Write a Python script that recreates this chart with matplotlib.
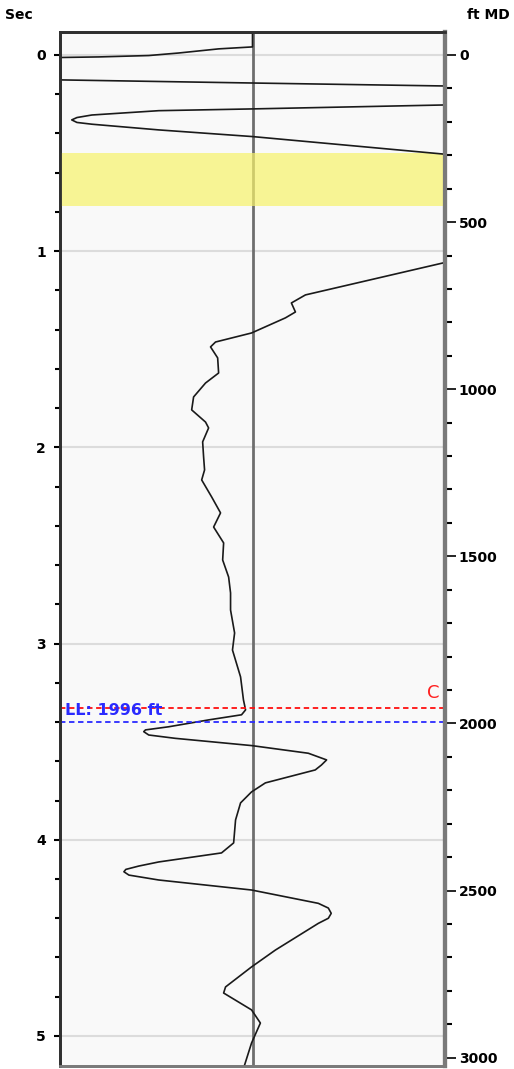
"""
Well log track: time (Sec) on the left, measured depth (ft MD) on the right,
one wiggly trace with a zone band and two marker lines.
"""
import matplotlib.pyplot as plt
from matplotlib.ticker import MultipleLocator

FT_PER_SEC = 587.0

# trace: time (s) and amplitude (-1..1 = track width)
# values past +/-1 run off the track and are clipped
trace_sec = [-0.117, -0.041, -0.031, -0.010, 0.003, 0.010, 0.013, 0.020,
             0.104, 0.127, 0.143, 0.158, 0.181, 0.224, 0.255, 0.275, 0.284,
             0.306, 0.319, 0.331, 0.344, 0.353, 0.382, 0.416, 0.505, 0.595,
             0.830, 1.060, 1.223, 1.264, 1.310, 1.340, 1.417, 1.463, 1.488,
             1.544, 1.621, 1.672, 1.743, 1.809, 1.871, 1.901, 1.972, 2.049,
             2.115, 2.166, 2.253, 2.334, 2.406, 2.487, 2.574, 2.661, 2.742,
             2.829, 2.946, 3.033, 3.170, 3.287, 3.338, 3.363, 3.389, 3.424,
             3.440, 3.449, 3.466, 3.483, 3.520, 3.559, 3.593, 3.619, 3.644,
             3.710, 3.756, 3.812, 3.899, 4.016, 4.067, 4.113, 4.134, 4.151,
             4.163, 4.180, 4.205, 4.256, 4.324, 4.348, 4.375, 4.400, 4.426,
             4.562, 4.648, 4.750, 4.781, 4.867, 4.934, 5.036, 5.160]
trace_amp = [0.0, 0.0, -0.176, -0.383, -0.539, -0.798, -1.005, -2.5,
             -2.5, -1.005, 0.0, 0.99, 2.5, 2.5, 0.99, 0.0, -0.487,
             -0.834, -0.912, -0.939, -0.912, -0.834, -0.487, 0.0, 0.99, 2.0,
             2.0, 0.99, 0.275, 0.202, 0.223, 0.171, -0.005, -0.192, -0.218,
             -0.181, -0.176, -0.244, -0.306, -0.316, -0.244, -0.228, -0.259, -0.254,
             -0.249, -0.264, -0.212, -0.166, -0.202, -0.150, -0.155, -0.124, -0.114,
             -0.114, -0.093, -0.104, -0.062, -0.047, -0.036, -0.057, -0.228, -0.435,
             -0.556, -0.565, -0.539, -0.401, -0.004, 0.290, 0.385, 0.358, 0.326,
             0.067, -0.005, -0.062, -0.088, -0.098, -0.161, -0.487, -0.591, -0.658,
             -0.668, -0.642, -0.487, -0.005, 0.342, 0.394, 0.409, 0.394, 0.342,
             0.119, -0.005, -0.140, -0.150, -0.005, 0.041, -0.005, -0.045]

zone_sec = (0.50, 0.77)          # yellow band
marker_c_ft = 1955               # red "C" marker
marker_ll_ft = 1996              # blue LL marker

sec_ticks = [0, 1, 2, 3, 4, 5]
ft_ticks = [0, 500, 1000, 1500, 2000, 2500, 3000]

fig = plt.figure(figsize=(5.14, 10.69), dpi=100)
ax = fig.add_axes([60 / 514, 3 / 1069, 385 / 514, 1034 / 1069])
ax.set_facecolor('#f9f9f9')

sec_lim = (5.153, -0.117)
ax.set_ylim(*sec_lim)
ax.set_xlim(-1.0, 1.0)

for s in sec_ticks:
    ax.axhline(s, color='#dcdcdc', lw=1.5, zorder=1)

ax.axvline(0, color='#6e6e6e', lw=2, zorder=2)
ax.axhspan(*zone_sec, color='#f7f26a', alpha=0.7, lw=0, zorder=3)

ax.plot(trace_amp, trace_sec, color='#1a1a1a', lw=1.2, zorder=4,
        solid_joinstyle='round', solid_capstyle='round')

c_sec = marker_c_ft / FT_PER_SEC
ll_sec = marker_ll_ft / FT_PER_SEC
ax.axhline(c_sec, color='#ff1010', lw=1.3, ls=(0, (3, 2)), zorder=5)
ax.axhline(ll_sec, color='#2a2aff', lw=1.3, ls=(0, (3, 2)), zorder=5)
ax.text(0.012, ll_sec - 0.035, f'LL: {marker_ll_ft} ft', transform=ax.get_yaxis_transform(),
        color='#2a2aff', fontsize=11.5, fontweight='bold', va='baseline', ha='left', zorder=6)
ax.text(0.97, c_sec - 0.08, 'C', transform=ax.get_yaxis_transform(),
        color='#ff2020', fontsize=13, va='center', ha='center', zorder=6)

ax.set_xticks([])
ax.set_yticks(sec_ticks)
ax.yaxis.set_minor_locator(MultipleLocator(0.2))
ax.tick_params(axis='y', which='major', length=4, width=1.5, pad=6, labelsize=10)
ax.tick_params(axis='y', which='minor', length=3.5, width=1.5)
for lbl in ax.get_yticklabels():
    lbl.set_fontweight('bold')

ax2 = ax.twinx()
ax2.set_ylim(sec_lim[0] * FT_PER_SEC, sec_lim[1] * FT_PER_SEC)
ax2.set_yticks(ft_ticks)
ax2.yaxis.set_minor_locator(MultipleLocator(100))
ax2.tick_params(axis='y', which='major', length=8, width=1.2, pad=2, labelsize=10)
ax2.tick_params(axis='y', which='minor', length=5, width=1.5)
for lbl in ax2.get_yticklabels():
    lbl.set_fontweight('bold')

for a in (ax, ax2):
    a.spines['left'].set_color('#303030')
    a.spines['left'].set_linewidth(2)
    a.spines['top'].set_color('#303030')
    a.spines['top'].set_linewidth(2)
    a.spines['right'].set_color('#7a7a7a')
    a.spines['right'].set_linewidth(3)
    a.spines['bottom'].set_color('#7a7a7a')
    a.spines['bottom'].set_linewidth(2)

fig.text(5 / 514, 1 - 15 / 1069, 'Sec', fontsize=10, fontweight='bold', va='center', ha='left')
fig.text(510 / 514, 1 - 15 / 1069, 'ft MD', fontsize=10, fontweight='bold', va='center', ha='right')

fig.savefig('out.png', dpi=100)
plt.close(fig)
